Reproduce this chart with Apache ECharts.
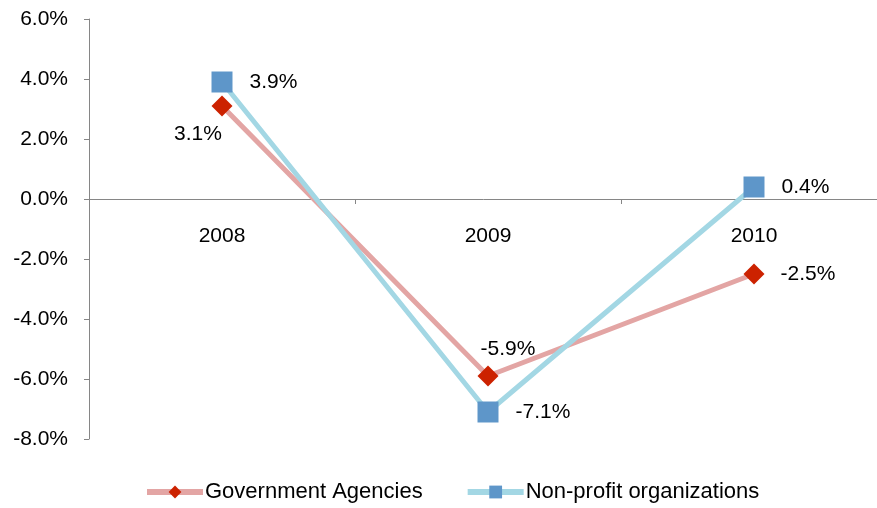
<!DOCTYPE html>
<html>
<head>
<meta charset="utf-8">
<script src="https://cdn.jsdelivr.net/npm/echarts@6/dist/echarts.min.js"></script>
<style>
  html, body { margin: 0; padding: 0; background: #fff; }
  #chart { width: 877px; height: 508px; }
</style>
</head>
<body>
<div id="chart"></div>
<script>
const years = ['2008', '2009', '2010']
const government = [3.1, -5.9, -2.5]
const nonProfit = [3.9, -7.1, 0.4]
const yTicks = { min: -8, max: 6, step: 2 }

const font = 'Liberation Sans, Arial, sans-serif'
const fs = 21
const pct = v => v.toFixed(1) + '%'

const chart = echarts.init(document.getElementById('chart'))

// per-point label tweaks for the government series (3.1% sits below-left, -5.9% above)
const govLabels = [
  { position: 'bottom', offset: [-24, -9] },
  { position: 'top', offset: [20, 10] },
  {}
]

chart.setOption({
  backgroundColor: '#fff',
  animation: false,
  textStyle: { fontFamily: font },
  grid: { left: 89, top: 19, width: 798, height: 420, containLabel: false, outerBoundsMode: 'none' },
  legend: {
    left: 139,
    bottom: 0,
    itemWidth: 56,
    itemHeight: 16,
    itemGap: 42,
    lineStyle: { width: 6 },
    textStyle: { fontFamily: font, fontSize: 22, color: '#000', padding: [0, 0, 0, -3] },
    data: ['Government Agencies', 'Non-profit organizations']
  },
  xAxis: {
    type: 'category',
    data: years,
    boundaryGap: true,
    offset: -240,
    axisLine: { onZero: false, lineStyle: { color: '#868686', width: 1 } },
    axisTick: { show: true, length: 5, lineStyle: { color: '#868686' } },
    axisLabel: { margin: 27, fontSize: fs, color: '#000', fontFamily: font },
    splitLine: { show: false }
  },
  yAxis: {
    type: 'value',
    min: yTicks.min,
    max: yTicks.max,
    interval: yTicks.step,
    axisLine: { show: true, lineStyle: { color: '#868686', width: 1 } },
    axisTick: { show: true, length: 5, lineStyle: { color: '#868686' } },
    axisLabel: { margin: 21, fontSize: fs, color: '#000', fontFamily: font, formatter: pct },
    splitLine: { show: false }
  },
  series: [
    {
      name: 'Government Agencies',
      type: 'line',
      symbol: 'diamond',
      symbolSize: 21,
      lineStyle: { color: '#E3A5A4', width: 5 },
      itemStyle: { color: '#CC2200' },
      label: {
        show: true,
        fontSize: fs,
        color: '#000',
        fontFamily: font,
        formatter: p => pct(p.value),
        position: 'right',
        distance: 16
      },
      data: government.map((v, i) => ({ value: v, label: govLabels[i] }))
    },
    {
      name: 'Non-profit organizations',
      type: 'line',
      data: nonProfit,
      symbol: 'rect',
      symbolSize: 21,
      lineStyle: { color: '#A3D7E4', width: 5 },
      itemStyle: { color: '#5E96C9' },
      label: {
        show: true,
        fontSize: fs,
        color: '#000',
        fontFamily: font,
        formatter: p => pct(p.value),
        position: 'right',
        distance: 17
      }
    }
  ]
})

window.addEventListener('resize', () => chart.resize())
</script>
</body>
</html>
